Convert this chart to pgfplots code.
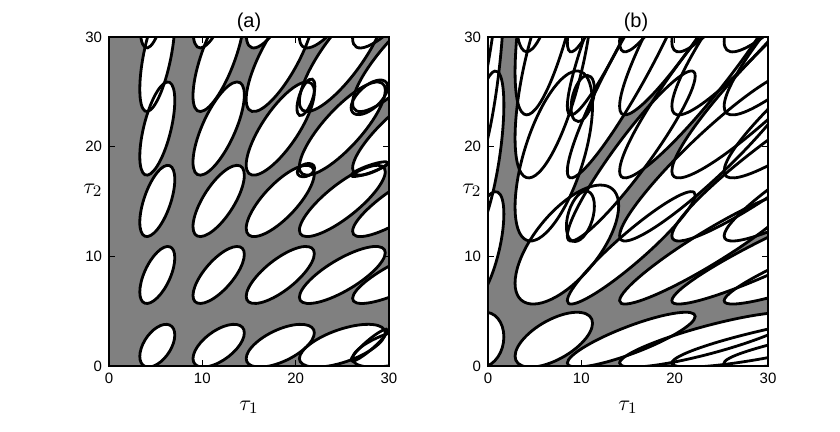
\documentclass[border=0pt]{standalone}
\usepackage{fontspec}
\setmainfont{Liberation Sans}
\usepackage{pgfplots}
\pgfplotsset{compat=1.18}
\definecolor{stab}{RGB}{128,128,128}

% one closed region, 8 points round its boundary
\newcommand\el[2]{\addplot[#1] coordinates {#2};}

% panel (a): unstable regions
\newcommand\panela[1]{%
  % row 0
  \el{#1}{(7.05,2.825) (6.501,3.734) (5.175,3.539) (3.849,2.355) (3.3,0.875) (3.849,-0.034) (5.175,0.161) (6.501,1.345)}
  \el{#1}{(14.5,3.02) (13.695,3.78) (11.75,3.41) (9.805,2.126) (9.0,0.68) (9.805,-0.08) (11.75,0.29) (13.695,1.574)}
  \el{#1}{(22.0,3.02) (20.931,3.78) (18.35,3.41) (15.769,2.126) (14.7,0.68) (15.769,-0.08) (18.35,0.29) (20.931,1.574)}
  \el{#1}{(29.6,3.02) (28.253,3.78) (25.0,3.41) (21.747,2.126) (20.4,0.68) (21.747,-0.08) (25.0,0.29) (28.253,1.574)}
  \el{#1}{(37.1,3.02) (35.489,3.78) (31.6,3.41) (27.711,2.126) (26.1,0.68) (27.711,-0.08) (31.6,0.29) (35.489,1.574)}
  % row 1
  \el{#1}{(7.05,9.86) (6.501,10.874) (5.175,10.38) (3.849,8.668) (3.3,6.74) (3.849,5.726) (5.175,6.22) (6.501,7.932)}
  \el{#1}{(14.5,10.172) (13.695,10.899) (11.75,10.104) (9.805,8.252) (9.0,6.428) (9.805,5.701) (11.75,6.496) (13.695,8.348)}
  \el{#1}{(22.0,10.25) (20.931,10.894) (18.35,10.019) (15.769,8.137) (14.7,6.35) (15.769,5.706) (18.35,6.581) (20.931,8.463)}
  \el{#1}{(29.6,10.328) (28.253,10.885) (25.0,9.928) (21.747,8.017) (20.4,6.272) (21.747,5.715) (25.0,6.672) (28.253,8.583)}
  \el{#1}{(37.1,10.432) (35.489,10.859) (31.6,9.787) (27.711,7.844) (26.1,6.168) (27.711,5.741) (31.6,6.813) (35.489,8.756)}
  % row 2
  \el{#1}{(7.05,17.0) (6.501,18.267) (5.175,17.65) (3.849,15.51) (3.3,13.1) (3.849,11.833) (5.175,12.45) (6.501,14.59)}
  \el{#1}{(14.5,17.39) (13.695,18.3) (11.75,17.306) (9.805,14.991) (9.0,12.71) (9.805,11.8) (11.75,12.794) (13.695,15.109)}
  \el{#1}{(22.0,17.553) (20.931,18.286) (18.35,17.124) (15.769,14.747) (14.7,12.548) (15.769,11.814) (18.35,12.976) (20.931,15.353)}
  \el{#1}{(29.6,17.715) (28.253,18.249) (25.0,16.909) (21.747,14.48) (20.4,12.385) (21.747,11.851) (25.0,13.191) (28.253,15.62)}
  \el{#1}{(37.1,17.813) (35.489,18.215) (31.6,16.763) (27.711,14.308) (26.1,12.288) (27.711,11.885) (31.6,13.337) (35.489,15.792)}
  % row 3
  \el{#1}{(7.05,24.2) (6.501,25.857) (5.175,25.05) (3.849,22.251) (3.3,19.1) (3.849,17.443) (5.175,18.25) (6.501,21.049)}
  \el{#1}{(14.5,24.71) (13.695,25.9) (11.75,24.6) (9.805,21.572) (9.0,18.59) (9.805,17.4) (11.75,18.7) (13.695,21.728)}
  \el{#1}{(22.0,24.965) (20.931,25.875) (18.35,24.31) (15.769,21.187) (14.7,18.335) (15.769,17.425) (18.35,18.99) (20.931,22.113)}
  \el{#1}{(29.6,25.135) (28.253,25.833) (25.0,24.081) (21.747,20.905) (20.4,18.165) (21.747,17.467) (25.0,19.219) (28.253,22.395)}
  \el{#1}{(37.1,25.263) (35.489,25.788) (31.6,23.89) (27.711,20.679) (26.1,18.038) (27.711,17.512) (31.6,19.41) (35.489,22.621)}
  % row 4
  \el{#1}{(7.05,31.36) (6.501,33.349) (5.175,32.38) (3.849,29.021) (3.3,25.24) (3.849,23.251) (5.175,24.22) (6.501,27.579)}
  \el{#1}{(14.5,31.972) (13.695,33.399) (11.75,31.839) (9.805,28.206) (9.0,24.628) (9.805,23.201) (11.75,24.761) (13.695,28.394)}
  \el{#1}{(22.0,32.278) (20.931,33.371) (18.35,31.493) (15.769,27.745) (14.7,24.322) (15.769,23.229) (18.35,25.107) (20.931,28.855)}
  \el{#1}{(29.6,32.482) (28.253,33.32) (25.0,31.217) (21.747,27.406) (20.4,24.118) (21.747,23.28) (25.0,25.383) (28.253,29.194)}
  \el{#1}{(37.1,32.635) (35.489,33.266) (31.6,30.988) (27.711,27.135) (26.1,23.965) (27.711,23.334) (31.6,25.612) (35.489,29.465)}
  % row 5, only the lower tips show
  \el{#1}{(7.05,38.44) (6.501,40.741) (5.175,39.62) (3.849,35.734) (3.3,31.36) (3.849,29.059) (5.175,30.18) (6.501,34.066)}
  \el{#1}{(14.5,39.148) (13.695,40.799) (11.75,38.995) (9.805,34.792) (9.0,30.652) (9.805,29.001) (11.75,30.805) (13.695,35.008)}
  \el{#1}{(22.0,39.502) (20.931,40.765) (18.35,38.593) (15.769,34.257) (14.7,30.298) (15.769,29.035) (18.35,31.207) (20.931,35.543)}
  \el{#1}{(29.6,39.738) (28.253,40.707) (25.0,38.275) (21.747,33.866) (20.4,30.062) (21.747,29.093) (25.0,31.525) (28.253,35.934)}
  \el{#1}{(37.1,39.915) (35.489,40.644) (31.6,38.009) (27.711,33.552) (26.1,29.885) (27.711,29.156) (31.6,31.791) (35.489,36.248)}
  % small extra loops
  \el{#1}{(22.03,18.043) (21.758,18.401) (21.1,18.442) (20.442,18.142) (20.17,17.677) (20.442,17.319) (21.1,17.278) (21.758,17.578)}
  \el{#1}{(22.06,25.502) (21.779,26.153) (21.1,25.836) (20.421,24.736) (20.14,23.498) (20.421,22.847) (21.1,23.164) (21.779,24.264)}
  \el{#1}{(29.86,18.52) (29.286,18.602) (27.9,18.303) (26.514,17.797) (25.94,17.381) (26.514,17.298) (27.9,17.597) (29.286,18.103)}
  \el{#1}{(29.86,25.448) (29.286,26.064) (27.9,25.764) (26.514,24.723) (25.94,23.552) (26.514,22.936) (27.9,23.236) (29.286,24.277)}
  \el{#1}{(29.86,3.258) (29.286,3.24) (27.9,2.437) (26.514,1.319) (25.94,0.542) (26.514,0.56) (27.9,1.363) (29.286,2.481)}
}

% panel (b)
\newcommand\panelb[1]{%
  % regions at tau1 near 0
  \el{#1}{(1.7,2.65) (1.056,4.336) (-0.5,4.888) (-2.056,3.982) (-2.7,2.15) (-2.056,0.464) (-0.5,-0.088) (1.056,0.818)}
  \el{#1}{(1.7,13.85) (1.056,15.848) (-0.5,14.875) (-2.056,11.5) (-2.7,7.7) (-2.056,5.702) (-0.5,6.675) (1.056,10.05)}
  \el{#1}{(1.7,23.8) (1.056,26.822) (-0.5,25.35) (-2.056,20.246) (-2.7,14.5) (-2.056,11.478) (-0.5,12.95) (1.056,18.054)}
  \el{#1}{(1.7,33.75) (1.056,37.796) (-0.5,35.825) (-2.056,28.992) (-2.7,21.3) (-2.056,17.254) (-0.5,19.225) (1.056,26.058)}
  \el{#1}{(1.7,43.7) (1.056,48.769) (-0.5,46.3) (-2.056,37.738) (-2.7,28.1) (-2.056,23.031) (-0.5,25.5) (1.056,34.062)}
  % first column
  \el{#1}{(11.2,3.9) (9.984,4.875) (7.05,4.4) (4.116,2.754) (2.9,0.9) (4.116,-0.075) (7.05,0.4) (9.984,2.046)}
  \el{#1}{(14.0,14.601) (12.374,16.484) (8.45,15.198) (4.526,11.497) (2.9,7.549) (4.526,5.666) (8.45,6.952) (12.374,10.653)}
  \el{#1}{(11.2,23.8) (9.984,26.822) (7.05,25.35) (4.116,20.246) (2.9,14.5) (4.116,11.478) (7.05,12.95) (9.984,18.054)}
  \el{#1}{(11.2,34.269) (9.984,37.869) (7.05,35.41) (4.116,28.332) (2.9,20.781) (4.116,17.181) (7.05,19.64) (9.984,26.718)}
  \el{#1}{(11.2,45.0) (9.984,48.898) (7.05,45.182) (4.116,36.029) (2.9,26.8) (4.116,22.902) (7.05,26.618) (9.984,35.771)}
  \el{#1}{(11.2,55.213) (9.984,59.897) (7.05,55.431) (4.116,44.43) (2.9,33.338) (4.116,28.653) (7.05,33.119) (9.984,44.12)}
  % second column
  \el{#1}{(22.2,4.525) (20.194,4.834) (15.35,3.718) (10.506,1.829) (8.5,0.275) (10.506,-0.034) (15.35,1.083) (20.194,2.971)}
  \el{#1}{(22.2,15.593) (20.194,15.418) (15.35,12.524) (10.506,8.605) (8.5,5.958) (10.506,6.132) (15.35,9.026) (20.194,12.945)}
  \el{#1}{(22.2,26.435) (20.194,26.171) (15.35,21.794) (10.506,15.869) (8.5,11.865) (10.506,12.129) (15.35,16.506) (20.194,22.431)}
  \el{#1}{(22.2,37.278) (20.194,36.924) (15.35,31.065) (10.506,23.132) (8.5,17.773) (10.506,18.126) (15.35,23.985) (20.194,31.918)}
  \el{#1}{(22.2,48.12) (20.194,47.677) (15.35,40.336) (10.506,30.396) (8.5,23.68) (10.506,24.123) (15.35,31.464) (20.194,41.404)}
  \el{#1}{(22.2,58.963) (20.194,58.43) (15.35,49.606) (10.506,37.659) (8.5,29.588) (10.506,30.12) (15.35,38.944) (20.194,50.891)}
  % third column
  \el{#1}{(33.2,4.525) (30.403,4.834) (23.65,3.718) (16.897,1.829) (14.1,0.275) (16.897,-0.034) (23.65,1.083) (30.403,2.971)}
  \el{#1}{(33.2,15.593) (30.403,15.418) (23.65,12.524) (16.897,8.605) (14.1,5.958) (16.897,6.132) (23.65,9.026) (30.403,12.945)}
  \el{#1}{(33.2,26.435) (30.403,26.171) (23.65,21.794) (16.897,15.869) (14.1,11.865) (16.897,12.129) (23.65,16.506) (30.403,22.431)}
  \el{#1}{(33.2,37.278) (30.403,36.924) (23.65,31.065) (16.897,23.132) (14.1,17.773) (16.897,18.126) (23.65,23.985) (30.403,31.918)}
  \el{#1}{(33.2,48.12) (30.403,47.677) (23.65,40.336) (16.897,30.396) (14.1,23.68) (16.897,24.123) (23.65,31.464) (30.403,41.404)}
  \el{#1}{(33.2,58.963) (30.403,58.43) (23.65,49.606) (16.897,37.659) (14.1,29.588) (16.897,30.12) (23.65,38.944) (30.403,50.891)}
  % fourth column
  \el{#1}{(44.2,4.525) (40.612,4.834) (31.95,3.718) (23.288,1.829) (19.7,0.275) (23.288,-0.034) (31.95,1.083) (40.612,2.971)}
  \el{#1}{(44.2,15.593) (40.612,15.418) (31.95,12.524) (23.288,8.605) (19.7,5.958) (23.288,6.132) (31.95,9.026) (40.612,12.945)}
  \el{#1}{(44.2,26.435) (40.612,26.171) (31.95,21.794) (23.288,15.869) (19.7,11.865) (23.288,12.129) (31.95,16.506) (40.612,22.431)}
  \el{#1}{(44.2,37.278) (40.612,36.924) (31.95,31.065) (23.288,23.132) (19.7,17.773) (23.288,18.126) (31.95,23.985) (40.612,31.918)}
  \el{#1}{(44.2,48.12) (40.612,47.677) (31.95,40.336) (23.288,30.396) (19.7,23.68) (23.288,24.123) (31.95,31.464) (40.612,41.404)}
  \el{#1}{(44.2,58.963) (40.612,58.43) (31.95,49.606) (23.288,37.659) (19.7,29.588) (23.288,30.12) (31.95,38.944) (40.612,50.891)}
  % fifth column
  \el{#1}{(55.2,4.525) (50.821,4.834) (40.25,3.718) (29.679,1.829) (25.3,0.275) (29.679,-0.034) (40.25,1.083) (50.821,2.971)}
  \el{#1}{(55.2,15.593) (50.821,15.418) (40.25,12.524) (29.679,8.605) (25.3,5.958) (29.679,6.132) (40.25,9.026) (50.821,12.945)}
  \el{#1}{(55.2,26.435) (50.821,26.171) (40.25,21.794) (29.679,15.869) (25.3,11.865) (29.679,12.129) (40.25,16.506) (50.821,22.431)}
  \el{#1}{(55.2,37.278) (50.821,36.924) (40.25,31.065) (29.679,23.132) (25.3,17.773) (29.679,18.126) (40.25,23.985) (50.821,31.918)}
  \el{#1}{(55.2,48.12) (50.821,47.677) (40.25,40.336) (29.679,30.396) (25.3,23.68) (29.679,24.123) (40.25,31.464) (50.821,41.404)}
  \el{#1}{(55.2,58.963) (50.821,58.43) (40.25,49.606) (29.679,37.659) (25.3,29.588) (29.679,30.12) (40.25,38.944) (50.821,50.891)}
  % small loops
  \el{#1}{(11.4,14.57) (10.961,15.792) (9.9,15.759) (8.839,14.491) (8.4,12.73) (8.839,11.508) (9.9,11.541) (10.961,12.809)}
  \el{#1}{(11.4,25.24) (11.034,26.356) (10.15,26.326) (9.266,25.168) (8.9,23.56) (9.266,22.444) (10.15,22.474) (11.034,23.632)}
}

\pgfplotsset{
  chart/.style={
    scale only axis, width=140pt, height=164.5pt, anchor=south west,
    xmin=0, xmax=30, ymin=0, ymax=30,
    xtick={0,10,20,30}, ytick={0,10,20,30},
    tick align=inside, major tick length=3pt,
    axis background/.style={fill=stab},
    axis on top,
    axis line style={line width=0.9pt},
    every tick/.style={black, line width=0.6pt},
    ticklabel style={font=\fontsize{7.5}{8}\selectfont},
    /pgf/number format/assume math mode=true,
    xlabel={\fontsize{11}{12}\selectfont$\tau_1$},
    ylabel={\fontsize{11}{12}\selectfont$\tau_2$},
    every axis x label/.style={at={(axis description cs:0.5,-0.125)}, anchor=center},
    every axis y label/.style={at={(axis description cs:-0.045,0.535)}, anchor=east, xshift=6.5pt},
    every axis title/.style={at={(axis description cs:0.5,1.045)}, anchor=center,
      font=\fontsize{10}{12}\selectfont},
  },
  wfill/.style={smooth cycle, tension=0.68, fill=white, draw=none},
  bline/.style={smooth cycle, tension=0.68, draw=black, line width=1.4pt},
}

\begin{document}
\begin{tikzpicture}
\useasboundingbox (0,0) rectangle (420pt,216pt);
\begin{axis}[chart, at={(54.5pt,33pt)}, title={(a)}]
  \panela{wfill}
  \panela{bline}
\end{axis}
\begin{axis}[chart, at={(244pt,33pt)}, title={(b)}, title style={xshift=4pt}]
  \panelb{wfill}
  \panelb{bline}
\end{axis}
\end{tikzpicture}
\end{document}
